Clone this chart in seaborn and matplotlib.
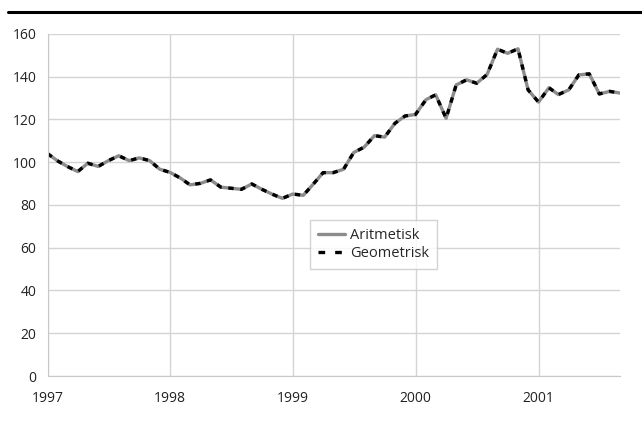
import matplotlib.pyplot as plt
import matplotlib.dates as mdates
import pandas as pd
import seaborn as sns

sns.set_style("white")
plt.rcParams['font.family'] = ['Open Sans', 'DejaVu Sans']

# monthly index values, Jan 1997 - Sep 2001
aritmetisk = [104, 100.5, 98, 95.6, 99.5, 98, 100.7, 103, 100.7, 102, 100.7, 96.7,
              95.2, 92.5, 89.4, 90.1, 91.7, 88.3, 87.8, 87.3, 89.8, 87.3, 85, 83.1,
              85.1, 84.5, 89.4, 95.1, 95.1, 96.7, 104.5, 107, 112.4, 111.7, 118.2, 121.6,
              122.3, 129.2, 131.5, 120.5, 136.1, 138.5, 136.9, 141, 152.8, 150.9, 153, 133.8,
              128.1, 134.8, 131.6, 133.8, 140.8, 141.3, 131.9, 133.1, 132.3]
geometrisk = [104, 100.5, 98, 95.6, 99.5, 98, 100.7, 103, 100.7, 102, 100.7, 96.7,
              95.2, 92.5, 89.4, 90.1, 91.7, 88.3, 87.8, 87.3, 89.8, 87.3, 85, 83.1,
              85.1, 84.5, 89.4, 95.1, 95.1, 96.7, 104.5, 107, 112.4, 111.7, 118.2, 121.6,
              122.3, 129.2, 131.5, 120.5, 136.1, 138.5, 136.9, 141, 152.8, 150.9, 153, 133.8,
              128.1, 134.8, 131.6, 133.8, 140.8, 141.3, 131.9, 133.1, 132.3]
months = pd.date_range("1997-01-01", periods=len(aritmetisk), freq="MS")

df = pd.DataFrame({"month": months, "Aritmetisk": aritmetisk, "Geometrisk": geometrisk})

fig = plt.figure(figsize=(6.42, 4.23), dpi=100)
ax = fig.add_axes([0.074, 0.111, 0.892, 0.809])

sns.lineplot(data=df, x="month", y="Aritmetisk", ax=ax, color="#8c8c8c",
             linewidth=2.4, label="Aritmetisk")
sns.lineplot(data=df, x="month", y="Geometrisk", ax=ax, color="black",
             linewidth=2.4, label="Geometrisk", dashes=False)
ax.lines[1].set_dashes([1.6, 2.0])

ax.set_ylim(0, 160)
ax.set_yticks(range(0, 161, 20))
ax.set_xlim(months[0], months[-1])
ax.xaxis.set_major_locator(mdates.YearLocator())
ax.xaxis.set_major_formatter(mdates.DateFormatter("%Y"))
ax.set_xlabel("")
ax.set_ylabel("")

ax.grid(True, color="#d4d4d4", linewidth=1)
ax.set_axisbelow(True)
for side in ["top", "right"]:
    ax.spines[side].set_visible(False)
for side in ["left", "bottom"]:
    ax.spines[side].set_color("#c8c8c8")
ax.tick_params(axis="both", length=5, color="#c8c8c8", labelsize=10,
               labelcolor="#222222", pad=3)
ax.tick_params(axis="x", pad=6)

leg = ax.legend(loc="upper left", bbox_to_anchor=(0.459, 0.455), frameon=True,
                fancybox=False, edgecolor="#c8c8c8", fontsize=10.5,
                handlelength=1.9, handletextpad=0.35, borderpad=0.5,
                labelspacing=0.25, borderaxespad=0)
leg.get_frame().set_linewidth(1)
for h in leg.get_lines():
    h.set_linewidth(2.4)
leg.get_lines()[1].set_dashes([2.0, 3.0])

# heavy rule across the top
fig.add_artist(plt.Line2D([0.012, 1.0], [0.971, 0.971], color="black", linewidth=2.2))

fig.savefig("out.png", dpi=100)
